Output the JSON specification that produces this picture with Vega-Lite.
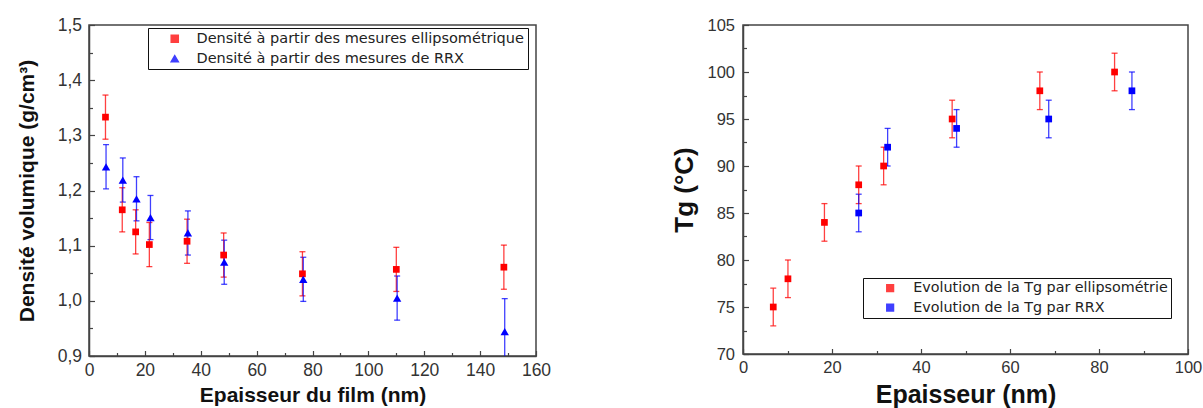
{
  "$schema": "https://vega.github.io/schema/vega-lite/v6.json",
  "padding": {"left": 15, "top": 15, "right": 0, "bottom": 0},
  "spacing": 119,
  "resolve": {"scale": {"color": "independent", "shape": "independent"}, "legend": {"color": "independent", "shape": "independent"}},
  "config": {
    "font": "Liberation Sans",
    "scale": {"continuousPadding": 0},
    "view": {"stroke": "#444", "strokeWidth": 1.5},
    "axis": {"domainColor": "#444", "domainWidth": 1.5, "tickColor": "#444", "tickWidth": 1.2, "grid": false, "labelColor": "#333", "labelFont": "Liberation Sans", "titleFont": "Liberation Sans", "titleFontWeight": "bold", "titleColor": "#111", "labelFlush": false, "labelOverlap": false},
    "axisX": {"labelPadding": 10.5},
    "axisY": {"labelPadding": 13},
    "legend": {"labelFont": "DejaVu Sans", "labelColor": "#222", "strokeColor": "#111", "fillColor": "white", "cornerRadius": 0, "labelLimit": 500}
  },
  "hconcat": [
    {
      "width": 447,
      "height": 331,
      "data": {"values": [
        {"s": "Densité à partir des mesures ellipsométrique", "x": 5.9, "y": 1.333, "e": 0.04},
        {"s": "Densité à partir des mesures ellipsométrique", "x": 11.9, "y": 1.165, "e": 0.04},
        {"s": "Densité à partir des mesures ellipsométrique", "x": 16.7, "y": 1.125, "e": 0.04},
        {"s": "Densité à partir des mesures ellipsométrique", "x": 21.6, "y": 1.102, "e": 0.04},
        {"s": "Densité à partir des mesures ellipsométrique", "x": 35.1, "y": 1.108, "e": 0.04},
        {"s": "Densité à partir des mesures ellipsométrique", "x": 48.2, "y": 1.083, "e": 0.04},
        {"s": "Densité à partir des mesures ellipsométrique", "x": 76.4, "y": 1.049, "e": 0.04},
        {"s": "Densité à partir des mesures ellipsométrique", "x": 110.0, "y": 1.057, "e": 0.04},
        {"s": "Densité à partir des mesures ellipsométrique", "x": 148.5, "y": 1.061, "e": 0.04},
        {"s": "Densité à partir des mesures de RRX", "x": 6.1, "y": 1.243, "e": 0.04},
        {"s": "Densité à partir des mesures de RRX", "x": 12.1, "y": 1.219, "e": 0.04},
        {"s": "Densité à partir des mesures de RRX", "x": 17.0, "y": 1.185, "e": 0.04},
        {"s": "Densité à partir des mesures de RRX", "x": 22.0, "y": 1.151, "e": 0.04},
        {"s": "Densité à partir des mesures de RRX", "x": 35.4, "y": 1.123, "e": 0.04},
        {"s": "Densité à partir des mesures de RRX", "x": 48.4, "y": 1.070, "e": 0.04},
        {"s": "Densité à partir des mesures de RRX", "x": 76.7, "y": 1.039, "e": 0.04},
        {"s": "Densité à partir des mesures de RRX", "x": 110.3, "y": 1.005, "e": 0.04},
        {"s": "Densité à partir des mesures de RRX", "x": 148.8, "y": 0.944, "e": 0.06}
      ]},
      "resolve": {"axis": {"x": "independent", "y": "independent"}},
      "layer": [
        {"mark": {"type": "errorbar", "ticks": {"size": 6}, "thickness": 1.3, "opacity": 0.75, "clip": true},
          "encoding": {
            "x": {"field": "x", "type": "quantitative", "scale": {"domain": [0, 160], "nice": false, "padding": 0},
              "axis": {"orient": "bottom", "title": null, "labels": false, "domain": false, "tickSize": -3.5,
                "values": [10,30,50,70,90,110,130,150]}},
            "y": {"field": "y", "type": "quantitative", "scale": {"domain": [0.9, 1.5], "nice": false, "zero": false, "padding": 0},
              "axis": {"orient": "left", "title": null, "labels": false, "domain": false, "tickSize": -3.5,
                "values": [0.95,1.05,1.15,1.25,1.35,1.45]}},
            "yError": {"field": "e"},
            "color": {"field": "s", "type": "nominal", "scale": {"domain": ["Densité à partir des mesures ellipsométrique", "Densité à partir des mesures de RRX"], "range": ["#ff0000", "#0000ff"]}}
          }},
        {"mark": {"type": "point", "filled": true, "opacity": 1, "clip": true},
          "encoding": {
            "x": {"field": "x", "type": "quantitative",
              "axis": {"orient": "bottom", "title": "Epaisseur du film (nm)", "titleFontSize": 21, "titlePadding": 6, "tickSize": -5.5, "labelFontSize": 17.5,
                "values": [0,20,40,60,80,100,120,140,160]}},
            "y": {"field": "y", "type": "quantitative",
              "axis": {"orient": "left", "title": "Densité volumique (g/cm³)", "titleFontSize": 21, "titlePadding": 20, "tickSize": -5.5, "labelFontSize": 17.5,
                "values": [0.9,1.0,1.1,1.2,1.3,1.4,1.5],
                "labelExpr": "replace(format(datum.value, '.1f'), '.', ',')"}},
            "color": {"field": "s", "type": "nominal",
              "legend": {"title": null, "orient": "none", "legendX": 59, "legendY": 3, "padding": 3.5, "symbolOffset": 16, "labelOffset": 14.5, "labelFontSize": 14.5, "symbolSize": 50, "rowPadding": 5}},
            "shape": {"field": "s", "type": "nominal", "scale": {"domain": ["Densité à partir des mesures ellipsométrique", "Densité à partir des mesures de RRX"], "range": ["square", "triangle-up"]}, "legend": {"title": null}},
            "size": {"field": "s", "type": "nominal", "scale": {"domain": ["Densité à partir des mesures ellipsométrique", "Densité à partir des mesures de RRX"], "range": [45, 70]}, "legend": null}
          }}
      ]
    },
    {
      "width": 445,
      "height": 329,
      "data": {"values": [
        {"s": "Evolution de la Tg par ellipsométrie", "x": 6.8, "y": 75, "e": 2},
        {"s": "Evolution de la Tg par ellipsométrie", "x": 10.1, "y": 78, "e": 2},
        {"s": "Evolution de la Tg par ellipsométrie", "x": 18.3, "y": 84, "e": 2},
        {"s": "Evolution de la Tg par ellipsométrie", "x": 26.0, "y": 88, "e": 2},
        {"s": "Evolution de la Tg par ellipsométrie", "x": 31.6, "y": 90, "e": 2},
        {"s": "Evolution de la Tg par ellipsométrie", "x": 47.0, "y": 95, "e": 2},
        {"s": "Evolution de la Tg par ellipsométrie", "x": 66.7, "y": 98, "e": 2},
        {"s": "Evolution de la Tg par ellipsométrie", "x": 83.5, "y": 100, "e": 2},
        {"s": "Evolution de la Tg par RRX", "x": 26.0, "y": 85, "e": 2},
        {"s": "Evolution de la Tg par RRX", "x": 32.5, "y": 92, "e": 2},
        {"s": "Evolution de la Tg par RRX", "x": 48.0, "y": 94, "e": 2},
        {"s": "Evolution de la Tg par RRX", "x": 68.7, "y": 95, "e": 2},
        {"s": "Evolution de la Tg par RRX", "x": 87.4, "y": 98, "e": 2}
      ]},
      "resolve": {"axis": {"x": "independent", "y": "independent"}},
      "layer": [
        {"mark": {"type": "errorbar", "ticks": {"size": 6}, "thickness": 1.3, "opacity": 0.75, "clip": true},
          "encoding": {
            "x": {"field": "x", "type": "quantitative", "scale": {"domain": [0, 100], "nice": false, "padding": 0},
              "axis": {"orient": "bottom", "title": null, "labels": false, "domain": false, "tickSize": -3.5,
                "values": [10,30,50,70,90]}},
            "y": {"field": "y", "type": "quantitative", "scale": {"domain": [70, 105], "nice": false, "zero": false, "padding": 0},
              "axis": {"orient": "left", "title": null, "labels": false, "domain": false, "tickSize": -3.5,
                "values": [72.5,77.5,82.5,87.5,92.5,97.5,102.5]}},
            "yError": {"field": "e"},
            "color": {"field": "s", "type": "nominal", "scale": {"domain": ["Evolution de la Tg par ellipsométrie", "Evolution de la Tg par RRX"], "range": ["#ff0000", "#0000ff"]}}
          }},
        {"mark": {"type": "point", "shape": "square", "filled": true, "opacity": 1, "size": 45, "clip": true},
          "encoding": {
            "x": {"field": "x", "type": "quantitative",
              "axis": {"orient": "bottom", "title": "Epaisseur (nm)", "titleFontSize": 25, "titlePadding": 7, "tickSize": -5.5, "labelFontSize": 16.5,
                "values": [0,20,40,60,80,100]}},
            "y": {"field": "y", "type": "quantitative",
              "axis": {"orient": "left", "title": "Tg (°C)", "titleFontSize": 26, "titlePadding": 9, "tickSize": -5.5, "labelFontSize": 16.5, "labelPadding": 14,
                "values": [70,75,80,85,90,95,100,105]}},
            "color": {"field": "s", "type": "nominal",
              "legend": {"title": null, "orient": "none", "legendX": 120, "legendY": 253, "padding": 3, "symbolOffset": 17, "labelOffset": 16, "labelFontSize": 14.3, "symbolSize": 45, "symbolType": "square", "rowPadding": 4.5}}
          }}
      ]
    }
  ]
}
